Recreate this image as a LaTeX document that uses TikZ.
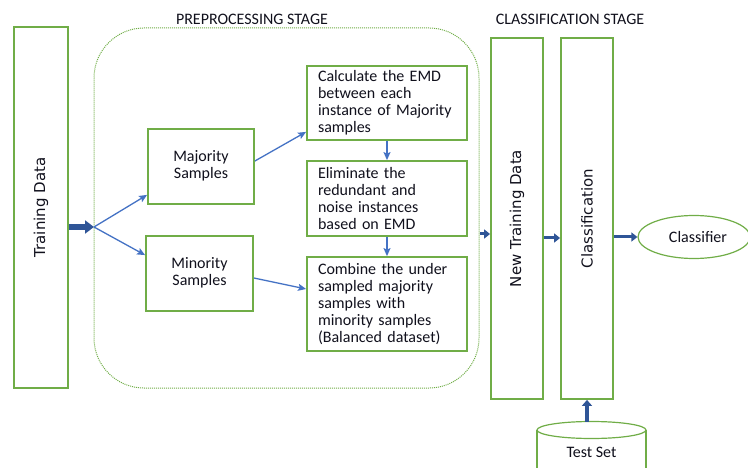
\documentclass[tikz,border=0pt]{standalone}
\usepackage{fontspec}
\setmainfont{Carlito}
\newfontfamily\dejavu{DejaVu Sans}
\usetikzlibrary{arrows.meta,shapes.geometric}
\definecolor{gr}{HTML}{70AD47}
\definecolor{bl}{HTML}{4472C4}
\definecolor{dbl}{HTML}{2F5597}
\definecolor{txt}{HTML}{10101C}
\begin{document}
\begin{tikzpicture}[x=1pt,y=-1pt,
  every node/.style={text=txt, font=\fontsize{16}{17}\selectfont},
  box/.style={draw=gr, line width=1.8pt, inner sep=0pt},
  tbox/.style={box, minimum width=160pt, text width=138pt, align=left, inner xsep=11pt},
  vbox/.style={box, minimum height=361pt, font=\dejavu\fontsize{15}{18}\selectfont},
  arr/.style={draw=bl, line width=1.3pt, -{Stealth[length=8pt,width=7pt,inset=1.5pt]}},
  midarr/.style={draw=dbl, line width=3pt, -{Triangle[length=6pt,width=9pt]}},
  bigarr/.style={draw=dbl, line width=5.5pt, -{Triangle[length=9pt,width=13pt]}},
  title/.style={font=\fontsize{16}{17}\selectfont}
]
\useasboundingbox (0,0) rectangle (748,468);
\clip (0,0) rectangle (748,468);

% titles
\node[title] (pretitle) at (252,19) {PREPROCESSING STAGE};
\node[title] (clstitle) at (570,19) {CLASSIFICATION STAGE};

% preprocessing group
\node[draw=gr, densely dotted, line width=1pt, rounded corners=50pt,
      minimum width=385pt, minimum height=360pt] (pre) at (286.5,208) {};

% vertical boxes
\node[vbox, minimum width=54pt] (train) at (41,207.5) {\rotatebox{90}{Training Data}};
\node[vbox, minimum width=52pt] (newtrain) at (517,218.5) {\rotatebox{90}{New Training Data}};
\node[vbox, minimum width=52pt] (cls) at (587,218.5) {\rotatebox{90}{Classification}};

% sample boxes
\node[box, minimum width=106pt, minimum height=75pt] (maj) at (201,166.5)
  {\raisebox{5pt}{\begin{tabular}{@{}c@{}}Majority\\Samples\end{tabular}}};
\node[box, minimum width=107pt, minimum height=75pt] (min) at (199.5,273.5)
  {\raisebox{5pt}{\begin{tabular}{@{}c@{}}Minority\\Samples\end{tabular}}};

% process boxes
\node[tbox, minimum height=74pt] (calc) at (387,103)
  {Calculate the EMD\\between each\\instance of Majority\\samples};
\node[tbox, minimum height=75pt] (elim) at (387,198.5)
  {Eliminate the\\redundant and\\noise instances\\based on EMD};
\node[tbox, minimum height=94pt] (comb) at (387,304)
  {Combine the under\\sampled majority\\samples with\\minority samples\\(Balanced dataset)};

% classifier
\node[ellipse, draw=gr, line width=1.2pt, minimum width=112pt, minimum height=43pt, inner sep=0pt] (clf) at (694,237) {\hspace*{8pt}Classifier};

% test set cylinder
\draw[gr, line width=1.2pt, fill=white] (537,430) -- (537,480) -- (646,480) -- (646,430);
\draw[gr, line width=1.2pt] (591.5,430) ellipse [x radius=54.5, y radius=8.5];
\node (test) at (591.5,452) {Test Set};
\coordinate (testtop) at (588,421.5);

% connectors
\coordinate (split) at (94,227);
\draw[bigarr] (train.east |- split) -- (split);
\draw[arr] (split) -- ([yshift=10pt]maj.south west);
\draw[arr] (split) -- ([yshift=-20pt]min.north west);
\draw[arr] ([yshift=5.5pt]maj.east) -- ([yshift=9pt]calc.south west);
\draw[arr] ([yshift=-4.5pt]min.east) -- ([yshift=15pt]comb.west);
\draw[arr] (calc.south) -- (elim.north);
\draw[arr] (elim.south) -- (comb.north);
\draw[midarr] ([yshift=-26pt]pre.east) -- ([yshift=-15.5pt]newtrain.west);
\draw[midarr] ([yshift=-19.5pt]newtrain.east) -- ([yshift=-19.5pt]cls.west);
\draw[midarr] (cls.east |- clf.west) -- (clf.west);
\draw[midarr, line width=4pt, -{Triangle[length=6pt,width=10pt]}] (cls.south |- testtop) -- (cls.south);
\end{tikzpicture}
\end{document}
